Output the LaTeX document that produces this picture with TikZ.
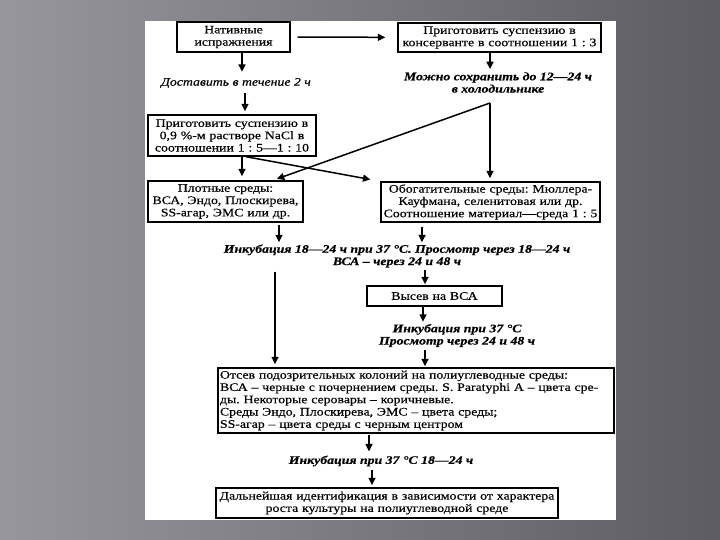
\documentclass[tikz,border=0pt]{standalone}
\usepackage{fontspec}
\setmainfont{Liberation Serif}[FakeStretch=1.2, FakeBold=0.4]
\usepackage{tikz}
\usetikzlibrary{arrows.meta,positioning,calc}
\definecolor{bgleft}{RGB}{150,150,156}
\definecolor{bgright}{RGB}{92,92,98}
\frenchspacing

\begin{document}
\begin{tikzpicture}[x=1pt, y=-1pt,
    box/.style={draw, line width=1.4pt, align=center, inner sep=2pt,
        font=\fontsize{11.5}{12.3}\selectfont},
    note/.style={align=center, inner sep=1pt,
        font=\fontsize{11.5}{12.3}\selectfont\bfseries\itshape},
    arr/.style={-{Triangle[length=7.5pt,width=7pt]}, line width=1.5pt}]

        % Slide background and page
        \shade[left color=bgleft, right color=bgright] (0,0) rectangle (720,540);
        \fill[white] (145,21) rectangle (616,520);

        % Top row
        \node[box, text width=109pt, minimum height=30pt] (native) at (233.5,37) {Нативные\\испражнения};
        \node[box, text width=199pt, minimum height=29pt] (conserve) at (499.5,37.5)
            {Приготовить суспензию в\\консерванте в соотношении 1 : 3};
        \node[note, font=\fontsize{11.5}{12.3}\selectfont\itshape] (deliver) at (236,83) {Доставить в течение 2 ч};
        \node[note] (store) at (498,82.5) {Можно сохранить до 12—24 ч\\в холодильнике};
        \coordinate (split) at (490,103);

        % Suspension in saline
        \node[box, text width=164pt, minimum height=41pt] (saline) at (232,135.5)
            {Приготовить суспензию в\\0,9 \%-м растворе NaCl в\\соотношении 1 : 5—1 : 10};

        % Media
        \node[box, text width=151pt, minimum height=41pt] (solid) at (225.5,201.5)
            {Плотные среды:\\ВСА, Эндо, Плоскирева,\\SS-агар, ЭМС или др.};
        \node[box, text width=215pt, minimum height=40pt] (enrich) at (490.5,202)
            {Обогатительные среды: Мюллера-\\Кауфмана, селенитовая или др.\\Соотношение материал—среда 1 : 5};
        \node[note] (incub1) at (397,256)
            {Инкубация 18—24 ч при 37 °С. Просмотр через 18—24 ч\\ВСА – через 24 и 48 ч};

        % Subculture
        \node[box, text width=131pt, minimum height=20pt] (sow) at (434.5,296) {Высев на ВСА};
        \node[note] (incub2) at (457,335.5) {Инкубация при 37 °С\\Просмотр через 24 и 48 ч};
        \node[box, text width=392pt, minimum height=65pt, align=left] (subcult) at (416,400.5)
            {Отсев подозрительных колоний на полиуглеводные среды:\\
             ВСА – черные с почернением среды. S. Paratyphi A – цвета сре-\\
             ды. Некоторые серовары – коричневые.\\
             Среды Эндо, Плоскирева, ЭМС – цвета среды;\\
             SS-агар – цвета среды с черным центром};
        \node[note] (incub3) at (381,461) {Инкубация при 37 °С 18—24 ч};
        \node[box, text width=338pt, minimum height=30pt] (final) at (387,503)
            {Дальнейшая идентификация в зависимости от характера\\роста культуры на полиуглеводной среде};

        % Arrows
        \draw[arr, shorten <=7pt, shorten >=12pt] (native) -- (conserve);
        \draw[arr, shorten >=5pt] ([xshift=8.5pt]native.south) coordinate (a1) -- (a1 |- deliver.north);
        \draw[arr, shorten <=4pt, shorten >=3pt] ([xshift=9pt]deliver.south) coordinate (a2) -- (a2 |- saline.north);
        \draw[arr, shorten >=2pt] ([xshift=-9.5pt]conserve.south) coordinate (a3) -- (a3 |- store.north);
        \draw[arr, shorten >=3pt] (split) -- (split |- enrich.north);
        \draw[arr, shorten >=4pt] (split) -- ([xshift=47.5pt]solid.north);
        \draw[arr, shorten >=4pt] ([xshift=10pt]saline.south) coordinate (a4) -- (a4 |- solid.north);
        \draw[arr, shorten >=10pt] ([xshift=14pt]saline.south) -- (enrich.north west);
        \draw[arr, shorten <=2pt, shorten >=1pt] ([xshift=53.5pt]solid.south) coordinate (a5) -- (a5 |- incub1.north);
        \draw[arr, shorten <=4pt, shorten >=1pt] ([xshift=-68.5pt]enrich.south) coordinate (a6) -- (a6 |- incub1.north);
        \draw[arr, shorten <=1pt, shorten >=1pt] ([xshift=28pt]incub1.south) coordinate (a7) -- (a7 |- sow.north);
        \draw[arr, shorten <=3pt, shorten >=3pt] ([xshift=-122pt]incub1.south) coordinate (a8) -- (a8 |- subcult.north);
        \draw[arr, shorten >=1pt] ([xshift=-11.5pt]sow.south) coordinate (a9) -- (a9 |- incub2.north);
        \draw[arr, shorten <=2pt, shorten >=1pt] ([xshift=-32pt]incub2.south) coordinate (a10) -- (a10 |- subcult.north);
        \draw[arr, shorten <=1pt, shorten >=3pt] ([xshift=-47pt]subcult.south) coordinate (a11) -- (a11 |- incub3.north);
        \draw[arr, shorten <=2pt, shorten >=2pt] ([xshift=-9pt]incub3.south) coordinate (a12) -- (a12 |- final.north);
    \end{tikzpicture}
\end{document}
